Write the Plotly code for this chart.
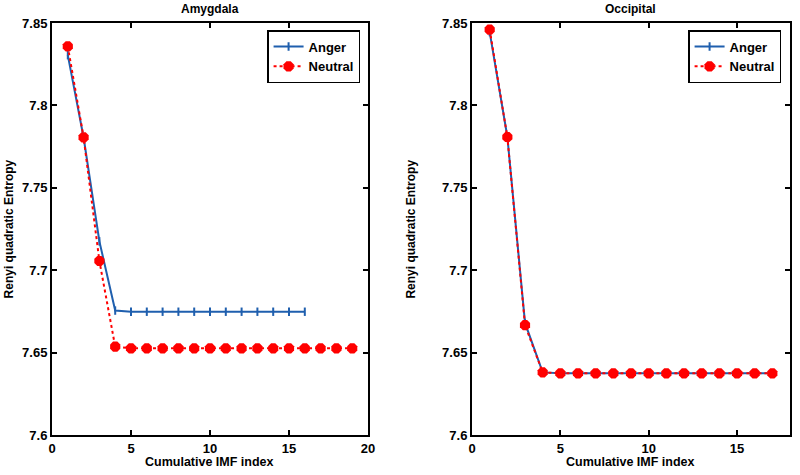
import plotly.graph_objects as go

# ---- data ----
amy_anger_x = list(range(1, 17))
amy_anger_y = [7.8305, 7.7805, 7.7175, 7.6755] + [7.6748] * 12
amy_neutral_x = list(range(1, 20))
amy_neutral_y = [7.8358, 7.7806, 7.7056, 7.6536] + [7.6526] * 15

occ_anger_x = list(range(1, 18))
occ_anger_y = [7.8445, 7.7810, 7.6680, 7.6380] + [7.6374] * 13
occ_neutral_x = list(range(1, 18))
occ_neutral_y = [7.8460, 7.7808, 7.6667, 7.6380] + [7.6374] * 13

titles = ["Amygdala", "Occipital"]
ytick_vals = [7.6, 7.65, 7.7, 7.75, 7.8, 7.85]
ytick_text = ["7.6", "7.65", "7.7", "7.75", "7.8", "7.85"]

BLUE = "#1f5fae"
RED = "#ff0000"
FONT = "Liberation Sans"

fig = go.Figure()

def add_pair(ax, ay, nx, ny, xa, ya, leg):
    fig.add_trace(go.Scatter(
        x=ax, y=ay, mode="lines+markers", name="Anger",
        line=dict(color=BLUE, width=2),
        marker=dict(symbol="line-ns-open", size=6, color=BLUE,
                    line=dict(color=BLUE, width=2)),
        xaxis=xa, yaxis=ya, legend=leg))
    fig.add_trace(go.Scatter(
        x=nx, y=ny, mode="lines+markers", name="Neutral",
        line=dict(color=RED, width=2, dash="dot"),
        marker=dict(symbol="octagon", size=11, color=RED),
        xaxis=xa, yaxis=ya, legend=leg))

add_pair(amy_anger_x, amy_anger_y, amy_neutral_x, amy_neutral_y, "x", "y", "legend")
add_pair(occ_anger_x, occ_anger_y, occ_neutral_x, occ_neutral_y, "x2", "y2", "legend2")

L, R, T, B = 52, 3, 23, 40
W, H = 800, 475
pw = W - L - R
ph = H - T - B

def px_x(px):
    return (px - L) / pw

def px_y(py):
    return (H - B - py) / ph

axis_common = dict(showline=True, linecolor="black", linewidth=2, mirror="ticks",
                   ticks="inside", ticklen=5, tickwidth=2, tickcolor="black",
                   showgrid=False, zeroline=False,
                   tickfont=dict(family=FONT, size=13, color="black", weight="bold"))

legend_common = dict(xanchor="right", yanchor="top",
                     bgcolor="white", bordercolor="black", borderwidth=1.5,
                     font=dict(family=FONT, size=13, color="black", weight="bold"),
                     tracegroupgap=0)

fig.update_layout(
    width=W, height=H,
    margin=dict(l=L, r=R, t=T, b=B),
    plot_bgcolor="white", paper_bgcolor="white",
    font=dict(family=FONT, color="black"),
    xaxis=dict(domain=[px_x(52), px_x(371)], range=[0, 20], tickvals=[0, 5, 10, 15, 20], anchor="y", **axis_common),
    yaxis=dict(range=[7.6, 7.85], tickvals=ytick_vals, ticktext=ytick_text, anchor="x", **axis_common),
    xaxis2=dict(domain=[px_x(476), px_x(797)], range=[0, 18], tickvals=[0, 5, 10, 15], anchor="y2", **axis_common),
    yaxis2=dict(range=[7.6, 7.85], tickvals=ytick_vals, ticktext=ytick_text, anchor="x2", **axis_common),
    legend=dict(x=px_x(363), y=px_y(30), **legend_common),
    legend2=dict(x=px_x(788), y=px_y(30), **legend_common),
)

ann_font = dict(family=FONT, size=12, color="black", weight="bold")
lab_font = dict(family=FONT, size=12.5, color="black", weight="bold")
annots = [
    dict(text=titles[0], x=px_x(211), y=px_y(9), font=ann_font),
    dict(text=titles[1], x=px_x(636), y=px_y(9), font=ann_font),
    dict(text="Cumulative IMF index", x=px_x(211), y=px_y(462), font=lab_font),
    dict(text="Cumulative IMF index", x=px_x(636), y=px_y(462), font=lab_font),
    dict(text="Renyi quadratic Entropy", x=px_x(9), y=px_y(229), textangle=-90, font=ann_font),
    dict(text="Renyi quadratic Entropy", x=px_x(414), y=px_y(229), textangle=-90, font=ann_font),
]
for a in annots:
    fig.add_annotation(xref="paper", yref="paper", showarrow=False,
                       xanchor="center", yanchor="middle", **a)

fig.write_html("out.html", config={"displayModeBar": False})

# remove default browser body margin so the figure sits at the page origin
with open("out.html", "r", encoding="utf-8") as f:
    html = f.read()
html = html.replace("<body>", '<body style="margin:0;padding:0;">', 1)
with open("out.html", "w", encoding="utf-8") as f:
    f.write(html)
